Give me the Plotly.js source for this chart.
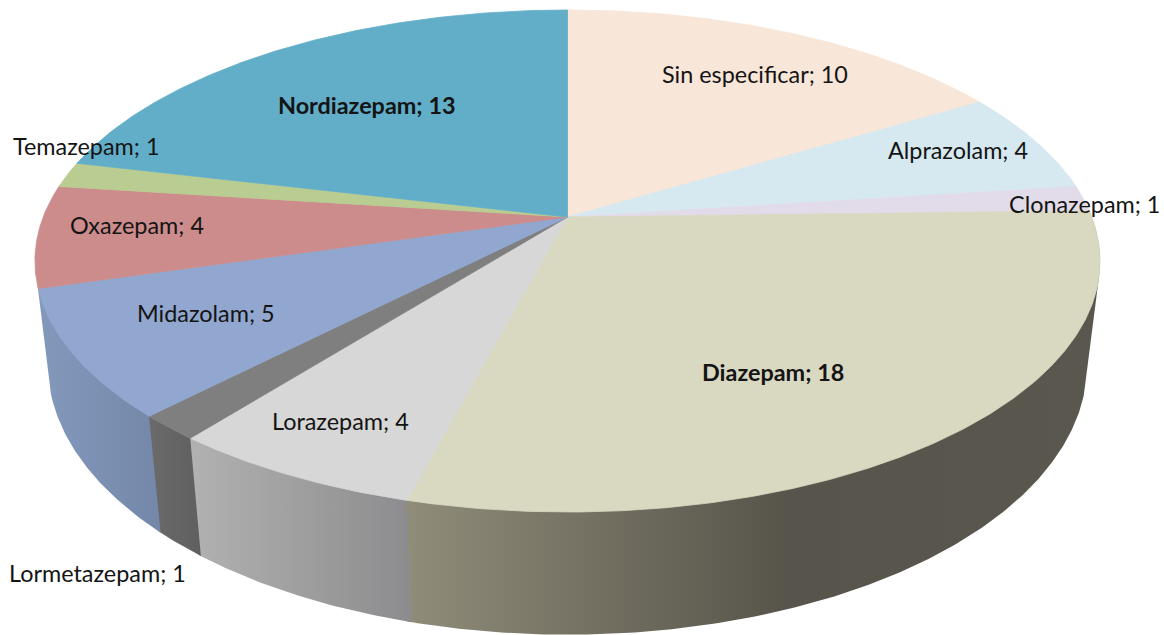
<!DOCTYPE html>
<html>
<head>
<meta charset="utf-8">
<script src="https://cdn.plot.ly/plotly-3.0.1.min.js"></script>
<style>html,body{margin:0;padding:0;background:#fff;overflow:hidden}#chart{width:1164px;height:635px}</style>
</head>
<body>
<div id="chart"></div>
<script>
// ---- data ----
const categories = ["Sin especificar","Alprazolam","Clonazepam","Diazepam","Lorazepam","Lormetazepam","Midazolam","Oxazepam","Temazepam","Nordiazepam"];
const values = [10,4,1,18,4,1,5,4,1,13];
const boldCategories = ["Diazepam","Nordiazepam"];

// ---- styles ----
const topColors = ["#f8e6d8","#d6e9f0","#e2dcea","#d9d8c1","#d7d7d7","#7f7f7f","#91a7cf","#cc8c8b","#b9cc92","#62aec9"];
const wallGradients = {
  "Diazepam": [[0,"#908d7a"],[0.55,"#57544b"],[1,"#5a574e"]],
  "Lorazepam": [[0,"#b2b2b2"],[1,"#8c8c8e"]],
  "Lormetazepam": [[0,"#6b6b6b"],[1,"#5f5f5f"]],
  "Midazolam": [[0,"#8399bb"],[1,"#7487a9"]]
};
const labelCenters = {
  "Sin especificar":[755,74],"Alprazolam":[958,150],"Clonazepam":[1084,204],"Diazepam":[773,372],
  "Lorazepam":[340,421],"Lormetazepam":[97,573],"Midazolam":[206,313],"Oxazepam":[137,225],
  "Temazepam":[86,146],"Nordiazepam":[367,105]
};

// ---- perspective projection of the disc's top and bottom faces ----
const topFace = {cx:567.5, cy:217, a:524.3, b:243.3, k:0.1753};
const bottomFace = {cx:567.5, cy:319, a:512, b:262, k:0.17};
function project(face, deg){
  const r = deg*Math.PI/180, u = Math.sin(r), v = -Math.cos(r), d = 1 - face.k*v;
  return [face.cx + face.a*u/d, face.cy + face.b*v/d];
}
function arc(face, a0, a1){
  const n = Math.max(2, Math.ceil((a1-a0)/0.5)), pts = [];
  for(let i=0;i<=n;i++) pts.push(project(face, a0+(a1-a0)*i/n));
  return pts;
}
function hull(points){
  const p = points.slice().sort((s,t)=>s[0]-t[0]||s[1]-t[1]);
  const cross = (o,s,t)=>(s[0]-o[0])*(t[1]-o[1])-(s[1]-o[1])*(t[0]-o[0]);
  const half = list => {
    const h=[];
    for(const q of list){
      while(h.length>=2 && cross(h[h.length-2],h[h.length-1],q)<=0) h.pop();
      h.push(q);
    }
    h.pop();
    return h;
  };
  return half(p).concat(half(p.slice().reverse()));
}

const total = values.reduce((s,v)=>s+v,0);
let run = 0;
const slices = categories.map((name,i)=>{
  const a0 = run/total*360; run += values[i];
  return {name, color:topColors[i], a0, a1:run/total*360};
});

const traces = [];
function addPoly(pts, color, gradient){
  const closed = pts.concat([pts[0]]);
  const t = {type:"scatter", mode:"lines", x:closed.map(p=>p[0]), y:closed.map(p=>p[1]),
    fill:"toself", hoverinfo:"skip", showlegend:false, line:{color:color, width:gradient?0:0.8}};
  if(gradient){ t.fillgradient = {type:"horizontal", colorscale:gradient}; }
  else { t.fillcolor = color; }
  traces.push(t);
}
// front walls; each is extended slightly under the next so no seam shows
const wallOverlap = 0.4;
slices.forEach(s=>{
  const g = wallGradients[s.name];
  if(g){
    const pts = hull(arc(topFace,s.a0,s.a1+wallOverlap).concat(arc(bottomFace,s.a0,s.a1+wallOverlap)));
    addPoly(pts, g[0][1], g);
  }
});
// top faces
slices.forEach(s=>{
  addPoly([[topFace.cx,topFace.cy]].concat(arc(topFace,s.a0,s.a1)), s.color);
});

const annotations = categories.map((name,i)=>{
  const label = name+"; "+values[i];
  return {x:labelCenters[name][0], y:labelCenters[name][1], xref:"x", yref:"y", showarrow:false,
    xanchor:"center", yanchor:"middle",
    text: boldCategories.includes(name) ? "<b>"+label+"</b>" : label,
    font:{family:"Lato, 'Open Sans', sans-serif", size:23.4, color:"#141414"}};
});

Plotly.newPlot("chart", traces, {
  width:1164, height:635, margin:{l:0,r:0,t:0,b:0},
  paper_bgcolor:"#fff", plot_bgcolor:"#fff", showlegend:false,
  xaxis:{range:[0,1164], visible:false, fixedrange:true},
  yaxis:{range:[635,0], visible:false, fixedrange:true},
  annotations
}, {displayModeBar:false, staticPlot:true});
</script>
</body>
</html>
